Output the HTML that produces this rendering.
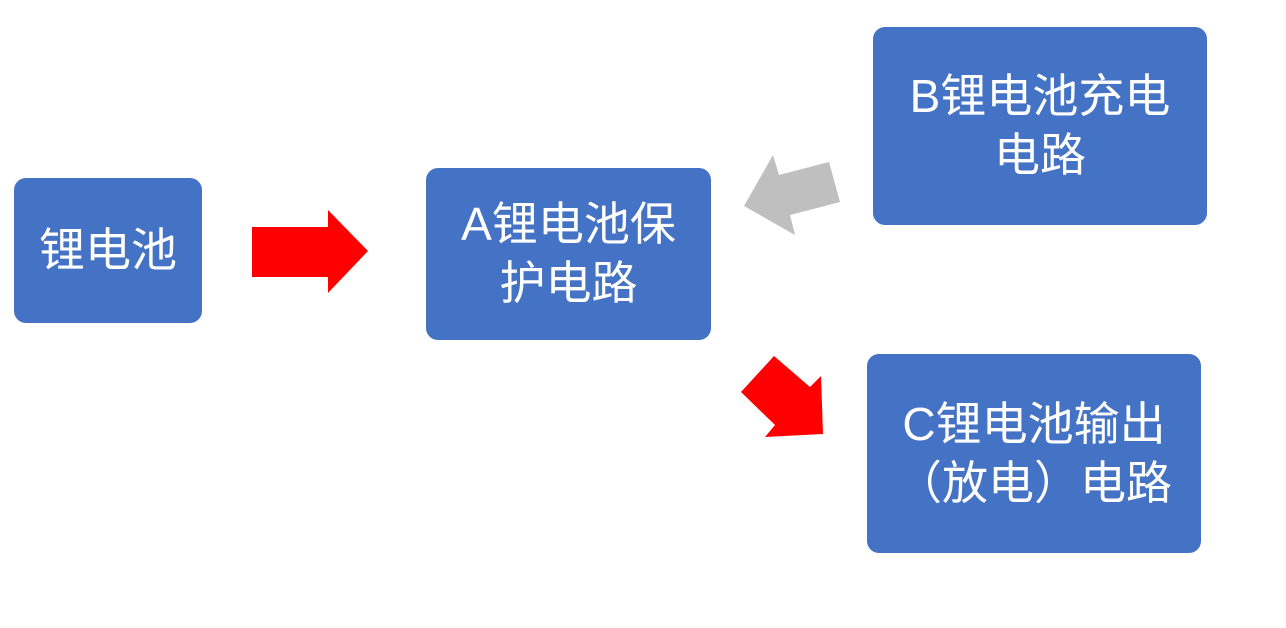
<html><body style="margin:0;width:1286px;height:628px;background:#fff;position:relative;font-family:'Liberation Sans','Noto Sans CJK SC',sans-serif;overflow:hidden">
<style>.b{position:absolute;background:#4472c4;border-radius:12px;color:#fff;font-size:46px;display:flex;align-items:center;justify-content:center;text-align:center;line-height:59px}</style>
<div class="b" style="left:14px;top:178px;width:188px;height:145px">锂电池</div>
<div class="b" style="left:426px;top:168px;width:285px;height:172px">A锂电池保<br>护电路</div>
<div class="b" style="left:873px;top:27px;width:334px;height:198px">B锂电池充电<br>电路</div>
<div class="b" style="left:867px;top:354px;width:334px;height:199px">C锂电池输出<br>（放电）电路</div>
<svg width="1286" height="628" style="position:absolute;left:0;top:0">
<polygon points="252,227 328,227 328,210 368,251 328,293 328,277 252,277" fill="#f00"/>
<polygon points="829,162 840,202 790,215 795,235 744,206 773,155 779,175" fill="#bfbfbf"/>
<polygon points="774,356 810,387 821,376 823,434 765,437 775,425 741,392" fill="#f00"/>
</svg>
</body></html>
